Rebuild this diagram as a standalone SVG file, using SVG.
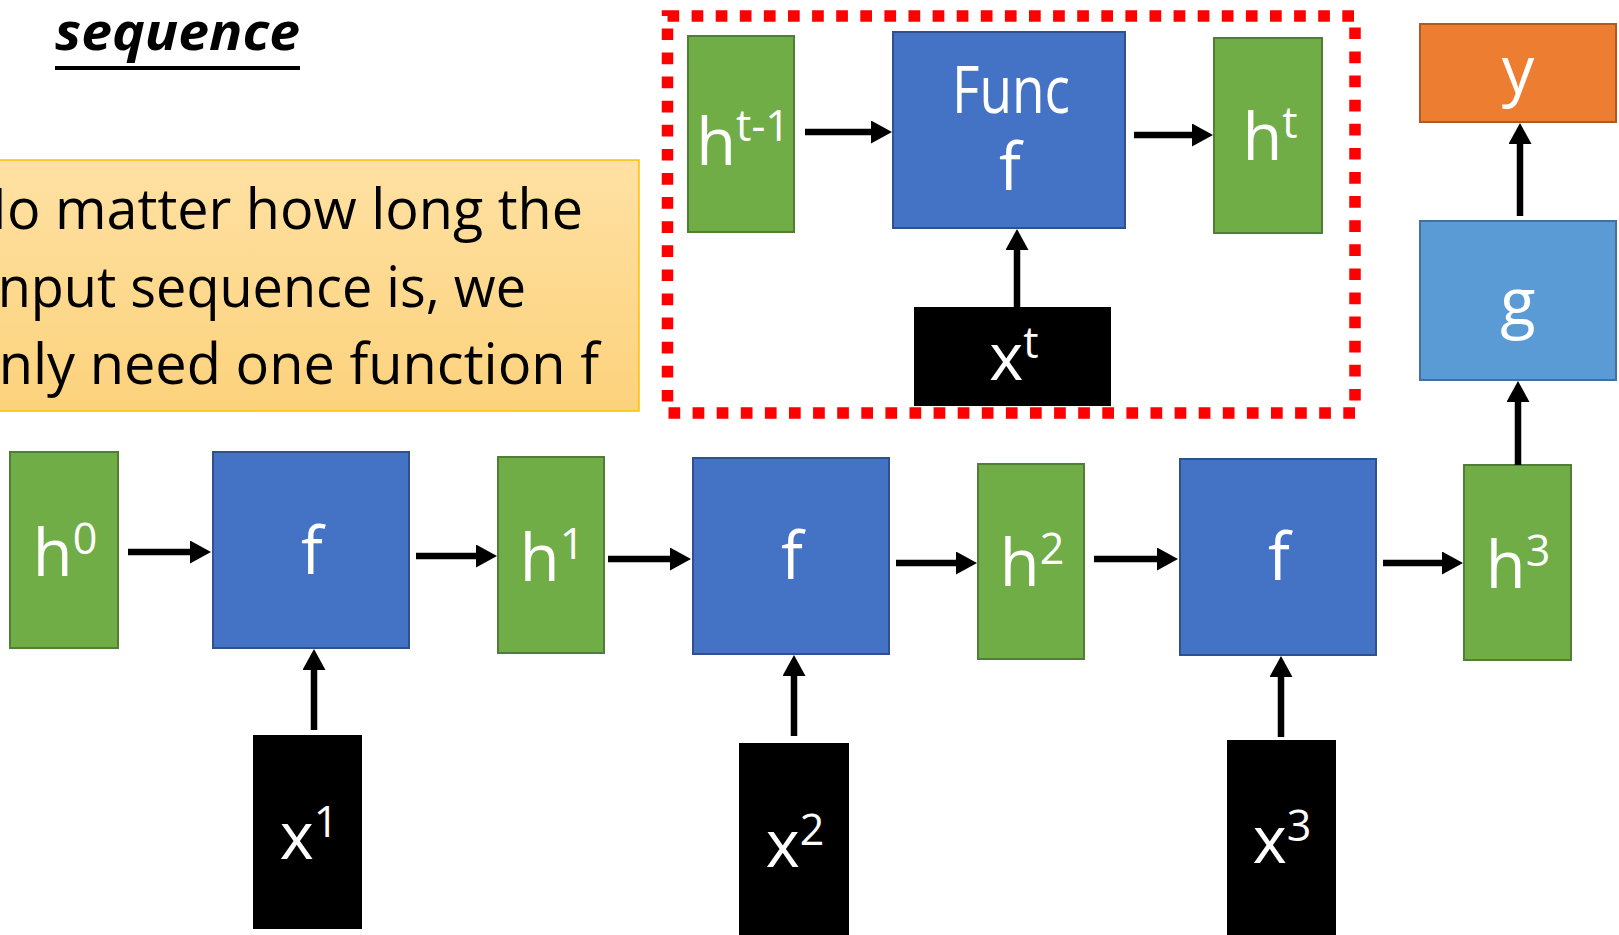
<svg xmlns="http://www.w3.org/2000/svg" width="1619" height="935" viewBox="0 0 1619 935">
  <style>
    .lbl { font-family: "Open Sans", "Noto Sans", sans-serif; fill: #FFFFFF; font-size: 65px; text-anchor: middle; }
    .sup { font-size: 43px; }
    .hnode { fill: #70AD47; stroke: #507E32; stroke-width: 2; }
    .fnode { fill: #4472C4; stroke: #2F528F; stroke-width: 2; }
    .xnode { fill: #000000; }
    .gnode { fill: #5B9BD5; stroke: #41719C; stroke-width: 2; }
    .ynode { fill: #ED7D31; stroke: #AE5A21; stroke-width: 2; }
    .conn line { stroke: #000000; stroke-width: 6.5; marker-end: url(#head); }
    .note { font-family: "Open Sans", "Noto Sans", sans-serif; font-size: 56px; fill: #000000; }
  </style>
  <defs>
    <marker id="head" markerUnits="userSpaceOnUse" markerWidth="21" markerHeight="23" viewBox="0 0 21 23" refX="1" refY="11.5" orient="auto">
      <path d="M0,0 L21,11.5 L0,23 Z" fill="#000000"/>
    </marker>
    <linearGradient id="noteFill" x1="0" y1="0" x2="0" y2="1">
      <stop offset="0" stop-color="#FFE1A3"/>
      <stop offset="1" stop-color="#FCD27C"/>
    </linearGradient>
  </defs>

  <rect width="1619" height="935" fill="#FFFFFF"/>

  <!-- heading -->
  <g id="heading">
    <text x="55" y="50" font-family="'Open Sans', 'Noto Sans', sans-serif" font-size="52" font-weight="bold" font-style="italic" textLength="245" lengthAdjust="spacingAndGlyphs" fill="#000000">sequence</text>
    <rect x="55" y="66" width="245" height="4" fill="#000000"/>
  </g>

  <!-- callout note -->
  <g id="note">
    <rect x="-4" y="160" width="643" height="251" fill="url(#noteFill)" stroke="#FFC000" stroke-width="1.5"/>
    <text class="note" x="-35" y="229" textLength="618" lengthAdjust="spacingAndGlyphs">No matter how long the</text>
    <text class="note" x="-16" y="307" textLength="542" lengthAdjust="spacingAndGlyphs">input sequence is, we</text>
    <text class="note" x="-35" y="384" textLength="634" lengthAdjust="spacingAndGlyphs">only need one function f</text>
  </g>

  <!-- dashed frame around the single-step view -->
  <rect id="step-frame" x="667.5" y="16" width="687.5" height="397" fill="none" stroke="#FF0000" stroke-width="11.5" stroke-dasharray="11.7 12.4"/>

  <!-- single step -->
  <g id="h-prev">
    <rect class="hnode" x="688" y="36" width="106" height="196"/>
    <text class="lbl" x="743" y="165">h<tspan class="sup" dy="-24">t-1</tspan></text>
  </g>
  <g id="func">
    <rect class="fnode" x="893" y="32" width="232" height="196"/>
    <text class="lbl" x="952" y="113" style="text-anchor:start" font-size="56" textLength="118" lengthAdjust="spacingAndGlyphs">Func</text>
    <text class="lbl" x="1010" y="190" font-size="54">f</text>
  </g>
  <g id="h-t">
    <rect class="hnode" x="1214" y="38" width="108" height="195"/>
    <text class="lbl" x="1270" y="160">h<tspan class="sup" dy="-22">t</tspan></text>
  </g>
  <g id="x-t">
    <rect class="xnode" x="914" y="307" width="197" height="99"/>
    <text class="lbl" x="1014" y="380">x<tspan class="sup" dy="-22">t</tspan></text>
  </g>

  <!-- unrolled chain -->
  <g id="h0">
    <rect class="hnode" x="10" y="452" width="108" height="196"/>
    <text class="lbl" x="65" y="576">h<tspan class="sup" dy="-22">0</tspan></text>
  </g>
  <g id="f1">
    <rect class="fnode" x="213" y="452" width="196" height="196"/>
    <text class="lbl" x="312" y="574">f</text>
  </g>
  <g id="h1">
    <rect class="hnode" x="498" y="457" width="106" height="196"/>
    <text class="lbl" x="552" y="581">h<tspan class="sup" dy="-22">1</tspan></text>
  </g>
  <g id="f2">
    <rect class="fnode" x="693" y="458" width="196" height="196"/>
    <text class="lbl" x="792" y="579">f</text>
  </g>
  <g id="h2">
    <rect class="hnode" x="978" y="464" width="106" height="195"/>
    <text class="lbl" x="1032" y="586">h<tspan class="sup" dy="-22">2</tspan></text>
  </g>
  <g id="f3">
    <rect class="fnode" x="1180" y="459" width="196" height="196"/>
    <text class="lbl" x="1279" y="580">f</text>
  </g>
  <g id="h3">
    <rect class="hnode" x="1464" y="465" width="107" height="195"/>
    <text class="lbl" x="1518" y="588">h<tspan class="sup" dy="-22">3</tspan></text>
  </g>
  <g id="g">
    <rect class="gnode" x="1420" y="221" width="196" height="159"/>
    <text class="lbl" x="1518" y="325">g</text>
  </g>
  <g id="y">
    <rect class="ynode" x="1420" y="24" width="196" height="98"/>
    <text class="lbl" x="1518" y="93">y</text>
  </g>
  <g id="x1">
    <rect class="xnode" x="253" y="735" width="109" height="194"/>
    <text class="lbl" x="309" y="859">x<tspan class="sup" dy="-22">1</tspan></text>
  </g>
  <g id="x2">
    <rect class="xnode" x="739" y="743" width="110" height="195"/>
    <text class="lbl" x="795" y="867">x<tspan class="sup" dy="-22">2</tspan></text>
  </g>
  <g id="x3">
    <rect class="xnode" x="1227" y="740" width="109" height="198"/>
    <text class="lbl" x="1282" y="863">x<tspan class="sup" dy="-22">3</tspan></text>
  </g>

  <!-- connectors -->
  <g id="connectors" class="conn">
    <line x1="805" y1="132" x2="872" y2="132"/>
    <line x1="1134" y1="135" x2="1193" y2="135"/>
    <line x1="1017" y1="307" x2="1017" y2="249"/>
    <line x1="128" y1="552" x2="191" y2="552"/>
    <line x1="416" y1="556" x2="477" y2="556"/>
    <line x1="608" y1="559" x2="671" y2="559"/>
    <line x1="896" y1="563" x2="957" y2="563"/>
    <line x1="1094" y1="559" x2="1158" y2="559"/>
    <line x1="1383" y1="563" x2="1443" y2="563"/>
    <line x1="314" y1="730" x2="314" y2="669"/>
    <line x1="794" y1="736" x2="794" y2="675"/>
    <line x1="1281" y1="737" x2="1281" y2="676"/>
    <line x1="1518" y1="465" x2="1518" y2="401"/>
    <line x1="1520" y1="216" x2="1520" y2="143"/>
  </g>
</svg>
